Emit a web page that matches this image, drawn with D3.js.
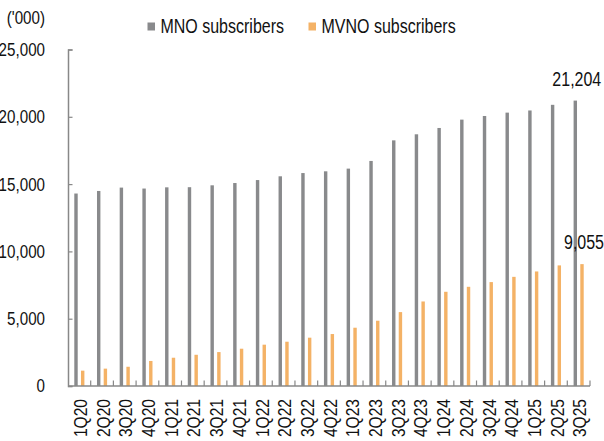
<!DOCTYPE html>
<html>
<head>
<meta charset="utf-8">
<script src="https://cdn.jsdelivr.net/npm/d3@7"></script>
<style>
  body { margin: 0; background: #fff; }
  text { font-family: "Liberation Sans", Arial, sans-serif; fill: #111; }
</style>
</head>
<body>
<svg id="chart" width="604" height="441"></svg>
<script>
// quarters on the x axis
const quarters = ["1Q20","2Q20","3Q20","4Q20","1Q21","2Q21","3Q21","4Q21","1Q22","2Q22","3Q22","4Q22",
  "1Q23","2Q23","3Q23","4Q23","1Q24","2Q24","3Q24","4Q24","1Q25","2Q25","3Q25"];

// subscribers ('000)
const mnoValues = [14300, 14490, 14740, 14670, 14760, 14770, 14910, 15080, 15300, 15580, 15820, 15950,
  16150, 16720, 18250, 18700, 19170, 19790, 20060, 20310, 20470, 20890, 21204];
const mvnoValues = [1140, 1290, 1430, 1860, 2100, 2320, 2520, 2770, 3070, 3290, 3590, 3860,
  4330, 4850, 5490, 6280, 7000, 7370, 7720, 8110, 8510, 8960, 9055];

const seriesNames = ["MNO subscribers", "MVNO subscribers"];
const colors = ["#898a8c", "#f4b266"];
const yTicks = [0, 5000, 10000, 15000, 20000, 25000];

const svg = d3.select("#chart");
const fmt = d3.format(",");
const squeeze = "scale(0.82,1)"; // narrow face look

const x = d3.scaleBand().domain(quarters).range([68, 590]).padding(0);
const xs = d3.scaleBand().domain(seriesNames).range([0, x.bandwidth()])
  .paddingInner(0.49).paddingOuter(0.94);
const y = d3.scaleLinear().domain([0, 25000]).range([386, 49.5]);

// bars
const series = [mnoValues, mvnoValues];
series.forEach((vals, s) => {
  svg.append("g")
    .selectAll("rect")
    .data(vals)
    .enter()
    .append("rect")
    .attr("x", (d, i) => x(quarters[i]) + xs(seriesNames[s]))
    .attr("width", xs.bandwidth())
    .attr("y", d => y(d))
    .attr("height", d => y(0) - y(d))
    .attr("fill", colors[s]);
});

// y axis
const yAxis = svg.append("g").attr("transform", "translate(68,0)")
  .call(d3.axisRight(y).tickValues(yTicks).tickSize(4.5).tickFormat(""));
yAxis.select(".domain").attr("stroke", "#888").attr("stroke-width", 1.5);
yAxis.selectAll(".tick line").attr("stroke", "#888").attr("stroke-width", 1.2);

yTicks.forEach(t => {
  svg.append("text")
    .attr("transform", `translate(45,${y(t)}) ${squeeze}`)
    .attr("dy", "0.35em")
    .attr("text-anchor", "end")
    .style("font-size", "18.5px")
    .text(fmt(t));
});

svg.append("text")
  .attr("transform", `translate(45,24) ${squeeze}`)
  .attr("text-anchor", "end")
  .style("font-size", "18.5px")
  .text("('000)");

// x axis with boundary ticks pointing up
const xAxis = svg.append("g").attr("transform", `translate(0,${y(0)})`);
xAxis.append("line")
  .attr("x1", 68).attr("x2", 590)
  .attr("stroke", "#888").attr("stroke-width", 1.5);
quarters.forEach(q => {
  const bx = x(q) + x.bandwidth();
  xAxis.append("line")
    .attr("x1", bx).attr("x2", bx).attr("y1", 0).attr("y2", -5.5)
    .attr("stroke", "#888").attr("stroke-width", 1.2);
});

svg.append("g")
  .selectAll("text")
  .data(quarters)
  .enter()
  .append("text")
  .attr("transform", d => `translate(${x(d) + x.bandwidth() / 2 + 1},399) rotate(-90) ${squeeze}`)
  .attr("dy", "0.35em")
  .attr("text-anchor", "end")
  .style("font-size", "19px")
  .text(d => d);

// value labels on the last quarter
const last = quarters.length - 1;
[0, 1].forEach(s => {
  const q = quarters[last];
  const cx = x(q) + xs(seriesNames[s]) + xs.bandwidth() / 2 + (s === 0 ? 1.5 : 2);
  svg.append("text")
    .attr("transform", `translate(${cx},${y(series[s][last]) - 15}) ${squeeze}`)
    .attr("text-anchor", "middle")
    .style("font-size", "19.5px")
    .text(fmt(series[s][last]));
});

// legend
const legendX = [147.5, 308.5];
seriesNames.forEach((name, i) => {
  svg.append("rect")
    .attr("x", legendX[i]).attr("y", 22.5)
    .attr("width", 7.5).attr("height", 8)
    .attr("fill", colors[i]);
  svg.append("text")
    .attr("transform", `translate(${legendX[i] + 13},33) ${squeeze}`)
    .style("font-size", "19.5px")
    .text(name);
});
</script>
</body>
</html>
